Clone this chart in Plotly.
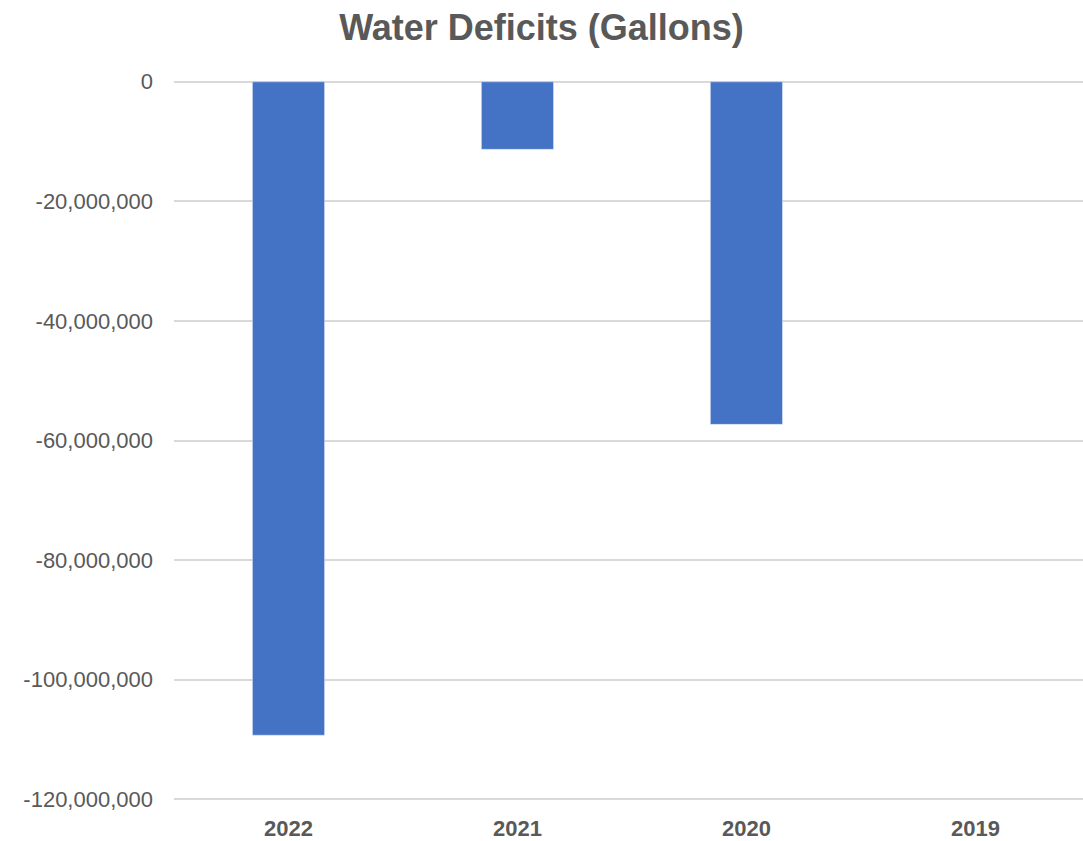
import plotly.graph_objects as go

years = ["2022", "2021", "2020", "2019"]
deficits = [-109300000, -11300000, -57300000, None]
y_ticks = [0, -20000000, -40000000, -60000000, -80000000, -100000000, -120000000]
y_tick_labels = ["0", "-20,000,000", "-40,000,000", "-60,000,000", "-80,000,000", "-100,000,000", "-120,000,000"]

fig = go.Figure(go.Bar(x=years, y=deficits, marker_color="#4472C4", width=0.315))

pad = 300000
fig.update_layout(
    width=1083, height=841,
    margin=dict(l=174, r=0, t=80, b=40),
    plot_bgcolor="white", paper_bgcolor="white",
    title=dict(text="<b>Water Deficits (Gallons)</b>", x=0.5, xanchor="center", y=0.967, yanchor="middle",
               font=dict(family="Liberation Sans, Arial", size=36, color="#595959")),
    showlegend=False,
    font=dict(family="Liberation Sans, Arial", color="#595959"),
)
fig.update_yaxes(range=[-120000000 - pad, pad], tickvals=y_ticks, ticktext=y_tick_labels,
                 showgrid=True, gridcolor="#d9d9d9", gridwidth=2, zeroline=False,
                 tickfont=dict(size=22, color="#595959"), ticks="", ticklabelstandoff=20,
                 showline=False, automargin=False)
fig.update_xaxes(range=[-0.5, 3.47], tickfont=dict(size=22, color="#595959", weight="bold"), showline=False,
                 ticks="", ticklabelstandoff=12)

fig.write_html("out.html")
